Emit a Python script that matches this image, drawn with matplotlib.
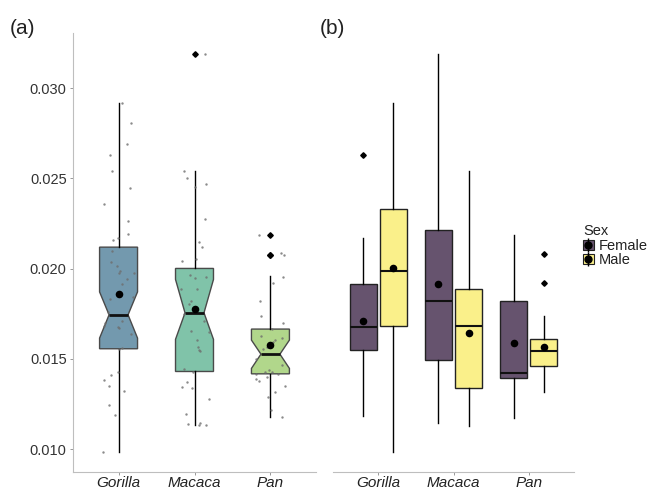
import numpy as np
import matplotlib
matplotlib.use("Agg")
import matplotlib.pyplot as plt
from matplotlib.patches import Patch
from matplotlib.lines import Line2D
from matplotlib.legend_handler import HandlerTuple

plt.rcParams['font.family'] = ['Liberation Sans', 'DejaVu Sans']

# ---------------- data ----------------
species = ['Gorilla', 'Macaca', 'Pan']

# panel (a): all individuals
a_q1 = [0.01556, 0.01430, 0.01417]
a_med = [0.01744, 0.01755, 0.01526]
a_q3 = [0.02119, 0.02001, 0.01665]
a_wlo = [0.00983, 0.01131, 0.01177]
a_whi = [0.02920, 0.02542, 0.01957]
a_mean = [0.01857, 0.01776, 0.01574]
a_notch_lo = [0.01615, 0.01608, 0.01447]
a_notch_hi = [0.01871, 0.01940, 0.01604]
a_outliers = [[], [0.03190], [0.02186, 0.02078, 0.02073]]

gorilla_pts = [0.02920, 0.02806, 0.02693, 0.02627, 0.02543, 0.02448, 0.02359, 0.02266,
               0.02193, 0.02172, 0.02160, 0.02099, 0.02039, 0.02017, 0.01978, 0.01988,
               0.01978, 0.01943, 0.01914, 0.01840, 0.01829, 0.01759, 0.01711, 0.01696,
               0.01683, 0.01670, 0.01679, 0.01639, 0.01561, 0.01556, 0.01428, 0.01408,
               0.01384, 0.01352, 0.01323, 0.01247, 0.01188, 0.00983]
macaca_pts = [0.03190, 0.02542, 0.02501, 0.02468, 0.02455, 0.02276, 0.02148, 0.02121,
              0.02043, 0.02056, 0.01947, 0.01956, 0.01962, 0.01888, 0.01888, 0.01818,
              0.01803, 0.01748, 0.01711, 0.01655, 0.01650, 0.01602, 0.01567, 0.01550,
              0.01546, 0.01441, 0.01427, 0.01373, 0.01336, 0.01343, 0.01280, 0.01196,
              0.01147, 0.01139, 0.01131, 0.01131]
pan_pts = [0.02186, 0.02084, 0.02073, 0.01955, 0.01923, 0.01823, 0.01739, 0.01700,
           0.01668, 0.01628, 0.01617, 0.01602, 0.01594, 0.01563, 0.01563, 0.01556,
           0.01499, 0.01467, 0.01436, 0.01427, 0.01428, 0.01417, 0.01416, 0.01399,
           0.01389, 0.01380, 0.01352, 0.01319, 0.01291, 0.01219, 0.01177]
a_points = [gorilla_pts, macaca_pts, pan_pts]

# panel (b): by sex
sexes = ['Female', 'Male']
f_q1 = [0.01548, 0.01495, 0.01395]
f_med = [0.01674, 0.01818, 0.01423]
f_q3 = [0.01916, 0.02213, 0.01822]
f_wlo = [0.01186, 0.01146, 0.01174]
f_whi = [0.02171, 0.03188, 0.02186]
f_mean = [0.01709, 0.01916, 0.01587]
f_outliers = [[0.02627], [], []]

m_q1 = [0.01683, 0.01338, 0.01458]
m_med = [0.01985, 0.01681, 0.01543]
m_q3 = [0.02333, 0.01886, 0.01608]
m_wlo = [0.00982, 0.01129, 0.01317]
m_whi = [0.02915, 0.02540, 0.01737]
m_mean = [0.02003, 0.01643, 0.01567]
m_outliers = [[], [], [0.02082, 0.01921]]

# ---------------- styles ----------------
a_colors = ['#7399AE', '#80C3A9', '#B1D78B']
sex_colors = ['#66536E', '#FAF08A']
spine_col = '#BEBEBE'
text_col = '#333333'
ylim = (0.00873, 0.03304)
yticks = [0.010, 0.015, 0.020, 0.025, 0.030]

fig = plt.figure(figsize=(6.54, 4.90), dpi=100)
axa = fig.add_axes([73 / 654, 18 / 490, 243 / 654, 438.7 / 490])
axb = fig.add_axes([333 / 654, 18 / 490, 241 / 654, 438.7 / 490])


def style_axis(ax, show_y):
    ax.set_xlim(0.4, 3.6)
    ax.set_ylim(*ylim)
    for s in ['top', 'right']:
        ax.spines[s].set_visible(False)
    ax.spines['bottom'].set_color(spine_col)
    ax.spines['left'].set_color(spine_col)
    ax.spines['bottom'].set_linewidth(0.8)
    ax.spines['left'].set_linewidth(0.8)
    ax.tick_params(axis='x', length=2.5, width=0.6, color='#888888', pad=0.5)
    if show_y:
        ax.set_yticks(yticks)
        ax.set_yticklabels(['%.3f' % v for v in yticks], fontsize=10.5, color=text_col)
        ax.tick_params(axis='y', length=2.5, width=0.6, color='#888888', pad=2)
    else:
        ax.spines['left'].set_visible(False)
        ax.set_yticks([])
    ax.set_facecolor('white')


style_axis(axa, True)
style_axis(axb, False)

flier_style = dict(marker='D', markersize=2.8, markerfacecolor='black',
                   markeredgecolor='black', linestyle='none')

# ---- panel (a) ----
stats_a = []
for i in range(3):
    stats_a.append(dict(med=a_med[i], q1=a_q1[i], q3=a_q3[i], whislo=a_wlo[i],
                        whishi=a_whi[i], fliers=a_outliers[i], mean=a_mean[i],
                        cilo=a_notch_lo[i], cihi=a_notch_hi[i], label=species[i]))
bp = axa.bxp(stats_a, positions=[1, 2, 3], widths=0.5, shownotches=True,
             showcaps=False, showfliers=True, patch_artist=True,
             boxprops=dict(edgecolor='#4a4a4a', linewidth=1.0),
             whiskerprops=dict(color='black', linewidth=1.0),
             medianprops=dict(color='#111111', linewidth=2.0),
             flierprops=flier_style, manage_ticks=False)
for patch, c in zip(bp['boxes'], a_colors):
    patch.set_facecolor(c)
    patch.set_zorder(2)

rng = np.random.default_rng(7)
for i, pts in enumerate(a_points):
    x = (i + 1) + rng.uniform(-0.2, 0.2, len(pts))
    axa.scatter(x, pts, s=3, color='#6e6e6e', alpha=0.8, zorder=4, linewidths=0)
axa.scatter([1, 2, 3], a_mean, s=30, color='black', zorder=5, linewidths=0)
axa.set_xticks([1, 2, 3])
axa.set_xticklabels(species, fontstyle='italic', fontsize=11, color='#222222')

# ---- panel (b) ----
offs = [-0.2, 0.2]
groups = [
    (f_q1, f_med, f_q3, f_wlo, f_whi, f_mean, f_outliers),
    (m_q1, m_med, m_q3, m_wlo, m_whi, m_mean, m_outliers),
]
for g, (q1, med, q3, wlo, whi, mean, outl) in enumerate(groups):
    st = []
    for i in range(3):
        st.append(dict(med=med[i], q1=q1[i], q3=q3[i], whislo=wlo[i], whishi=whi[i],
                       fliers=outl[i], mean=mean[i], label=species[i]))
    pos = [i + 1 + offs[g] for i in range(3)]
    axb.bxp(st, positions=pos, widths=0.36, showcaps=False, patch_artist=True,
            boxprops=dict(edgecolor='#222222', linewidth=1.0, facecolor=sex_colors[g]),
            whiskerprops=dict(color='black', linewidth=1.0),
            medianprops=dict(color='#111111', linewidth=1.5),
            flierprops=flier_style, manage_ticks=False)
    axb.scatter(pos, mean, s=30, color='black', zorder=5, linewidths=0)
axb.set_xticks([1, 2, 3])
axb.set_xticklabels(species, fontstyle='italic', fontsize=11, color='#222222')

# panel labels
fig.text(10 / 654, 1 - 28 / 490, '(a)', fontsize=15, va='center', ha='left', color='#222222')
fig.text(320 / 654, 1 - 28 / 490, '(b)', fontsize=15, va='center', ha='left', color='#222222')

# legend
handles = []
for c in sex_colors:
    handles.append((Patch(facecolor=c, edgecolor='#222222', linewidth=0.8),
                    Line2D([], [], color='black', marker='|', markersize=10, linestyle='none'),
                    Line2D([], [], color='black', marker='o', markersize=5, linestyle='none')))
leg = fig.legend(handles, sexes, title='Sex', loc='upper left',
                 bbox_to_anchor=(583 / 654, 1 - 224 / 490), frameon=False,
                 fontsize=10.5, title_fontsize=10.5, handlelength=0.75, handleheight=0.7,
                 handletextpad=0.35, labelspacing=0.05, borderaxespad=0, borderpad=0,
                 handler_map={tuple: HandlerTuple(ndivide=1, pad=0)})
leg._legend_box.align = 'left'
for t in leg.get_texts():
    t.set_color('#222222')
leg.get_title().set_color('#222222')

fig.savefig('out.png', dpi=100)
